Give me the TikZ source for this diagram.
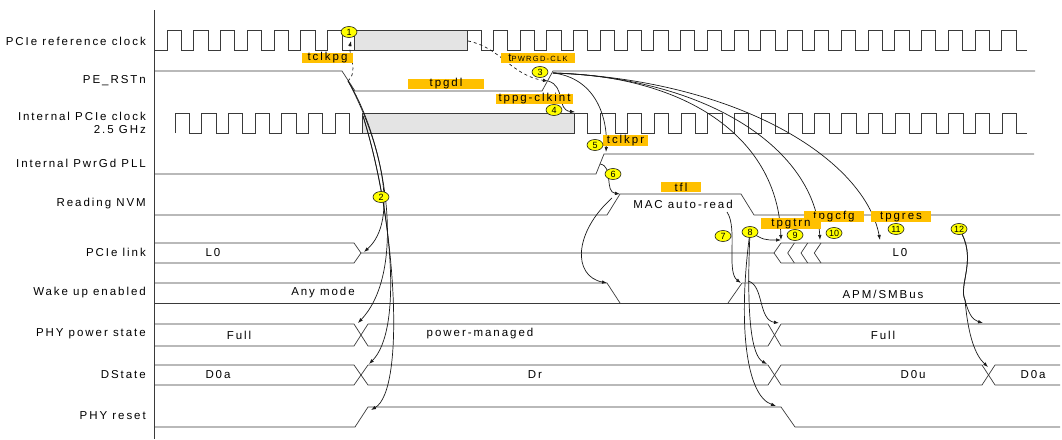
\documentclass[tikz,border=0pt]{standalone}
\usepackage{fontspec}
\setmainfont{Liberation Sans}[LetterSpace=17]
\usetikzlibrary{arrows.meta,shapes.geometric}
\definecolor{Ink}{HTML}{1A1A1A}
\definecolor{Wire}{HTML}{3A3A3A}
\definecolor{Shade}{HTML}{E4E4E4}
\definecolor{Gold}{HTML}{FFC000}
\definecolor{Marker}{HTML}{FFFF00}
\tikzset{
  >={Latex[length=5pt,width=3.6pt]},
  sig/.style={draw=Wire,line width=.7pt},
  held/.style={sig,fill=Shade},
  cause/.style={->,draw=Ink,line width=.7pt},
  dep/.style={cause,dashed},
  rowlab/.style={anchor=east,font=\fontsize{11.5}{13}\selectfont,align=right,inner sep=0pt},
  val/.style={font=\fontsize{11.5}{13}\selectfont,inner sep=0pt},
  tag/.style={fill=Gold,inner sep=0pt,minimum height=10.5pt,font=\fontsize{11.5}{13}\selectfont},
  num/.style={ellipse,draw=Ink,line width=.6pt,fill=Marker,minimum width=16pt,minimum height=11pt,inner sep=0pt,font=\fontsize{9}{10}\selectfont\addfontfeature{LetterSpace=0}}
}

\begin{document}
\begin{tikzpicture}[x=1pt,y=-1pt]
\useasboundingbox (0,0) rectangle (1062,439);

% signal names
\node[rowlab] (nref) at (146,41) {PCIe reference clock};
\node[rowlab] (nrst) at (146,81) {PE\_RSTn};
\node[rowlab] (nint) at (146,122.5) {Internal PCIe clock\\2.5 GHz};
\node[rowlab] (npll) at (146,163) {Internal PwrGd PLL};
\node[rowlab] (nnvm) at (146,204) {Reading NVM};
\node[rowlab] (nlink) at (146,252) {PCIe link};
\node[rowlab] (nwake) at (146,293) {Wake up enabled};
\node[rowlab] (nphy) at (146,334) {PHY power state};
\node[rowlab] (nds) at (146,375) {DState};
\node[rowlab] (nres) at (146,416) {PHY reset};
\draw[sig] (154,10) -- (154,439);

% clocks
\draw[sig] (154,50) foreach \i in {0,...,6}{ -- ({167+26.76*\i},50) -- ++(0,-20) -- ++(14.3,0) -- ++(0,20)} -- (354,50);
\draw[held] (354,30) rectangle (467,50);
\draw[sig] (467,30) -- (481,30) -- (481,50) foreach \i in {0,...,19}{ -- ({493.2+26.76*\i},50) -- ++(0,-20) -- ++(14.3,0) -- ++(0,20)} -- (1027,50);
\draw[sig] (175,133) foreach \i in {0,...,6}{ -- ({175+26.7*\i},133) -- ++(0,-20) -- ++(14.3,0) -- ++(0,20)} -- (362,133);
\draw[held] (362,113) rectangle (574,133);
\draw[sig] (574,113) -- (587,113) -- (587,133) foreach \i in {0,...,15}{ -- ({600.7+26.76*\i},133) -- ++(0,-20) -- ++(14.3,0) -- ++(0,20)} -- (1027,133);

% levels
\draw[sig] (154,71) -- (342,71) -- (355,91) -- (542,91) -- (553,71) -- (1035,71);
\draw[sig] (154,174) -- (596,174) -- (604,154) -- (1034,154);
\draw[sig] (154,215) -- (607,215) -- (620,194) -- (741,194) -- (754,215) -- (1060,215);
\draw[sig] (154,427) -- (355,427) -- (368,407) -- (781,407) -- (795,427) -- (1060,427);

% busses
\draw[sig] (154,243) -- (354,243) -- (361,253) -- (354,263) -- (154,263);
\draw[sig] (361,253) -- (774,253) -- (781,243) -- (1060,243);
\draw[sig] (774,253) -- (781,263) -- (1060,263);
\foreach \x in {787.7,801,814.3}
  \draw[sig] (\x+6.7,243) -- (\x,253) -- (\x+6.7,263);
\draw[sig] (154,283) -- (607,283) -- (620,303);
\draw[sig] (154,303) -- (1060,303);
\draw[sig] (728,303) -- (742,283) -- (1060,283);
\draw[sig] (154,324) -- (354,324) -- (368,346) -- (768,346) -- (781,324) -- (1060,324);
\draw[sig] (154,346) -- (354,346) -- (368,324) -- (768,324) -- (781,346) -- (1060,346);
\draw[sig] (154,365) -- (354,365) -- (368,385) -- (768,385) -- (781,365) -- (982,365) -- (995,385) -- (1060,385);
\draw[sig] (154,385) -- (354,385) -- (368,365) -- (768,365) -- (781,385) -- (982,385) -- (995,365) -- (1060,365);

% bus values
\node[val] (vl1) at (213,253) {L0};
\node[val] (vl2) at (900,253) {L0};
\node[val] (vw1) at (323,293) {Any mode};
\node[val] (vw2) at (883,294) {APM/SMBus};
\node[val] (vp1) at (239,335) {Full};
\node[val] (vp2) at (480,334) {power-managed};
\node[val] (vp3) at (883,335) {Full};
\node[val] (vd1) at (218,375) {D0a};
\node[val] (vd2) at (535,375) {Dr};
\node[val] (vd3) at (913,375) {D0u};
\node[val] (vd4) at (1033,375) {D0a};
\node[val] (vmac) at (683,204) {MAC auto-read};

% event points
\coordinate (rstF) at (348,81);
\coordinate (rstR) at (548,81);
\coordinate (rstTop) at (553,73);
\coordinate (refHold) at (468,41);
\coordinate (refStop) at (351,41);
\coordinate (intStop) at (363,116);
\coordinate (intRun) at (575,112);
\coordinate (pllUp) at (606,152);
\coordinate (pllMid) at (600,164);
\coordinate (nvmUp) at (620,194);
\coordinate (nvmMid) at (612,198);
\coordinate (nvmEnd) at (727,212);
\coordinate (wakeDown) at (607,283);
\coordinate (wakeUp) at (741,283);
\coordinate (wakeTop) at (748,281);
\coordinate (linkDown) at (364,252);
\coordinate (linkUp) at (781,240);
\coordinate (cfgUp) at (820,240);
\coordinate (resUp) at (880,240);
\coordinate (phyLow) at (358,323);
\coordinate (phyFull) at (779,323);
\coordinate (phyFull2) at (983,323);
\coordinate (dsR) at (369,364);
\coordinate (dsU) at (767,364);
\coordinate (dsA) at (988,367);
\coordinate (rstOff) at (371,410);
\coordinate (rstOn) at (776,406);
\coordinate (at8) at (750,232);
\coordinate (at12) at (959,229);

% dependencies
\draw[dep] (rstF) .. controls (359,72) and (348,54) .. (refStop);
\draw[dep] (refHold) .. controls (500,47) and (512,76) .. (rstR);
\draw[cause] (rstR) .. controls (566,86) and (556,110) .. (intRun);
\draw[cause] (rstTop) .. controls (596,78) and (608,118) .. (pllUp);
\draw[cause] (pllMid) .. controls (614,166) and (604,192) .. (nvmUp);
\draw[cause] (nvmMid) .. controls (574,232) and (572,276) .. (wakeDown);
\draw[cause] (nvmEnd) .. controls (738,228) and (726,272) .. (wakeUp);
\draw[cause] (rstTop) .. controls (690,76) and (778,140) .. (linkUp);
\draw[cause] (rstTop) .. controls (710,78) and (815,150) .. (cfgUp);
\draw[cause] (rstTop) .. controls (740,80) and (865,160) .. (resUp);
\draw[cause] (at8) .. controls (764,240) .. (linkUp);
\draw[cause] (at8) .. controls (738,320) and (745,395) .. (rstOn);
\draw[cause] (at8) .. controls (746,320) and (752,356) .. (dsU);
\draw[cause] (wakeTop) .. controls (764,285) and (758,320) .. (phyFull);
\draw[cause] (at12) .. controls (978,258) and (958,285) .. (965,300) .. controls (968,312) and (972,320) .. (phyFull2);
\draw[cause] (at12) .. controls (978,258) and (958,285) .. (965,300) .. controls (968,335) and (975,355) .. (dsA);
\draw[cause] (rstF) .. controls (380,140) and (400,220) .. (linkDown);
\draw[cause] (rstF) .. controls (385,140) and (408,270) .. (phyLow);
\draw[cause] (intStop) .. controls (392,210) and (403,330) .. (dsR);
\draw[cause] (intStop) .. controls (396,220) and (406,390) .. (rstOff);

% timing names
\node[tag,minimum width=51pt] (tclkpg) at (327.5,58) {tclkpg};
\node[tag,minimum width=76pt] (tpgdl) at (446,84) {tpgdl};
\node[tag,minimum width=74pt] (tpwrgd) at (538,58) {t{\fontsize{7.5}{8}\selectfont PWRGD-CLK}};
\node[tag,minimum width=77pt] (tppg) at (534.5,99) {tppg-clkint};
\node[tag,minimum width=45pt] (tclkpr) at (625.5,140.5) {tclkpr};
\node[tag,minimum width=40pt] (tfl) at (681,187) {tfl};
\node[tag,minimum width=60pt] (tpgcfg) at (834,216.5) {tpgcfg};
\node[tag,minimum width=60pt] (tpgtrn) at (791,223.5) {tpgtrn};
\node[tag,minimum width=60pt] (tpgres) at (901,216.5) {tpgres};

% markers
\node[num] (c1) at (349,32) {1};
\node[num] (c2) at (381,197) {2};
\node[num] (c3) at (540,72) {3};
\node[num] (c4) at (554,110) {4};
\node[num] (c5) at (595,145) {5};
\node[num] (c6) at (613,174) {6};
\node[num] (c7) at (723,236) {7};
\node[num] (c8) at (at8) {8};
\node[num] (c9) at (795,235) {9};
\node[num] (c10) at (834,233) {10};
\node[num] (c11) at (896,229) {11};
\node[num] (c12) at (at12) {12};
\end{tikzpicture}
\end{document}
